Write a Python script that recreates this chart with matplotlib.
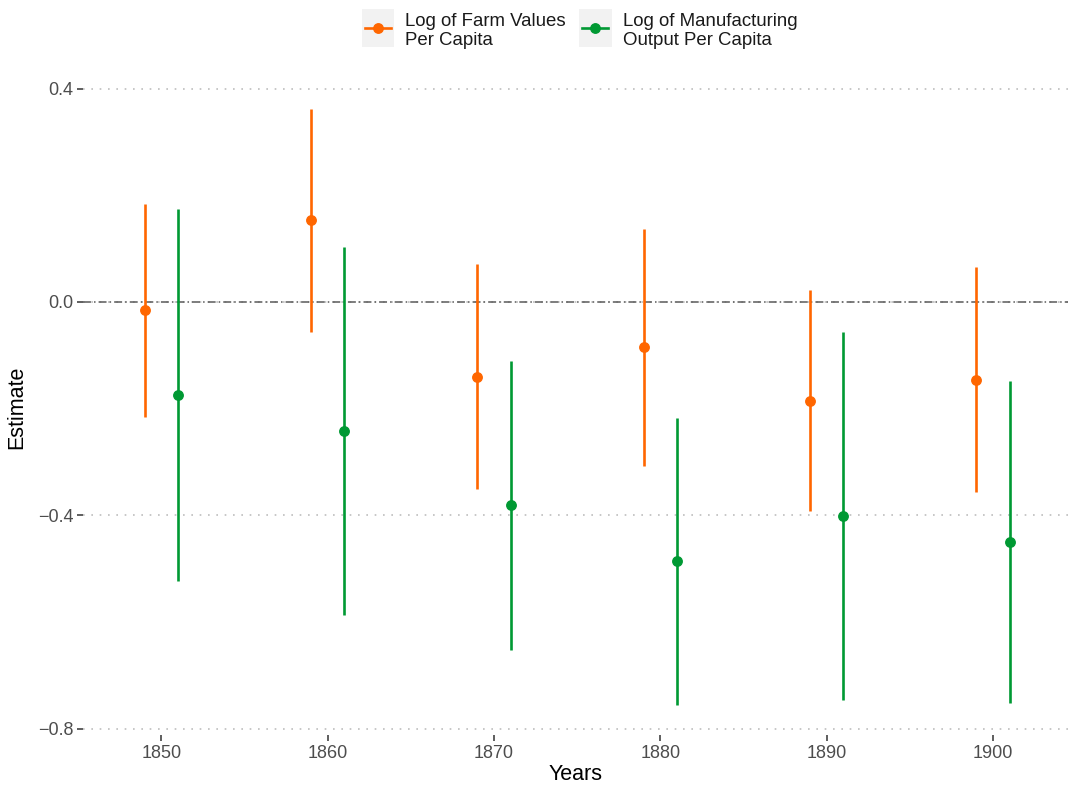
import matplotlib
matplotlib.use("Agg")
import matplotlib.pyplot as plt
import numpy as np
from matplotlib.lines import Line2D
from matplotlib.patches import Rectangle
from matplotlib.legend_handler import HandlerLine2D
from matplotlib.ticker import FuncFormatter, FixedLocator

plt.rcParams['font.family'] = ['Liberation Sans', 'DejaVu Sans']

# Census years and coefficient estimates with 95% confidence bounds
years = [1850, 1860, 1870, 1880, 1890, 1900]

farm_est = [-0.016, 0.153, -0.140, -0.085, -0.185, -0.146]
farm_lo = [-0.216, -0.056, -0.350, -0.307, -0.392, -0.357]
farm_hi = [0.183, 0.362, 0.071, 0.136, 0.022, 0.065]

manu_est = [-0.174, -0.242, -0.381, -0.486, -0.401, -0.450]
manu_lo = [-0.523, -0.587, -0.653, -0.756, -0.746, -0.752]
manu_hi = [0.174, 0.103, -0.111, -0.217, -0.056, -0.148]

series_labels = ["Log of Farm Values\nPer Capita",
                 "Log of Manufacturing\nOutput Per Capita"]
y_ticks = [0.4, 0.0, -0.4, -0.8]

ORANGE = "#FF6600"
GREEN = "#009933"

fig = plt.figure(figsize=(10.74, 7.88), dpi=100)
ax = fig.add_axes([83 / 1074, 1 - 735 / 788, 985 / 1074, 656 / 788])

yrs = np.array(years, dtype=float)
offset = 1.0  # side-by-side dodge in years


def draw(xpos, est, lo, hi, color):
    est = np.asarray(est)
    err = np.vstack([est - np.asarray(lo), np.asarray(hi) - est])
    ax.errorbar(xpos, est, yerr=err, fmt='o', color=color, ecolor=color,
                elinewidth=1.9, markersize=6.8, capsize=0, zorder=4)


draw(yrs - offset, farm_est, farm_lo, farm_hi, ORANGE)
draw(yrs + offset, manu_est, manu_lo, manu_hi, GREEN)

# reference line at zero (dash-dot)
ax.axhline(0, color="#5A5A5A", lw=1.1, linestyle=(0, (5.2, 2.0, 1.0, 2.0)), zorder=2)

# axis limits with padding around the data
all_lo = min(min(farm_lo), min(manu_lo))
all_hi = max(max(farm_hi), max(manu_hi))
rng = all_hi - all_lo
ax.set_ylim(all_lo - 0.05 * rng, all_hi + 0.05 * rng)
ax.set_xlim(1845.3, 1904.5)

ax.yaxis.set_major_locator(FixedLocator(y_ticks))
ax.yaxis.set_major_formatter(FuncFormatter(lambda v, p: f"{v:.1f}".replace("-", "\u2212")))
ax.set_xticks(years)
ax.set_xticklabels([str(y) for y in years])

ax.yaxis.grid(True, color="#BEBEBE", lw=1.2, linestyle=(0, (1, 4)), zorder=1)
ax.xaxis.grid(False)
ax.set_axisbelow(True)
for s in ax.spines.values():
    s.set_visible(False)

ax.tick_params(axis='both', length=4, width=1.1, color="#333333",
               labelsize=13, labelcolor="#4D4D4D", pad=3)

ax.set_xlabel("Years", fontsize=15.5, color="black")
ax.set_ylabel("Estimate", fontsize=15.5, color="black")
ax.xaxis.set_label_coords(0.5, -0.044)
ax.yaxis.set_label_coords(-0.057, 0.5)

KEY_H = 27.4  # legend key box height in points


class KeyHandler(HandlerLine2D):
    """Legend key with a light grey box behind the line-and-point glyph."""

    def create_artists(self, legend, orig_handle, xdescent, ydescent,
                       width, height, fontsize, trans):
        y0 = -ydescent - 0.5
        bg = Rectangle((-xdescent, y0), width, KEY_H,
                       facecolor="#F2F2F2", edgecolor="none", transform=trans)
        yc = y0 + KEY_H / 2
        pad = 0.1 * width
        line = Line2D([-xdescent + pad, -xdescent + width - pad], [yc, yc],
                      color=orig_handle.get_color(), lw=orig_handle.get_linewidth(),
                      transform=trans)
        dot = Line2D([-xdescent + width / 2], [yc], linestyle='none',
                     marker='o', markersize=orig_handle.get_markersize(),
                     color=orig_handle.get_color(), transform=trans)
        return [bg, line, dot]


handles = [Line2D([], [], color=ORANGE, lw=1.9, marker='o', markersize=6.8),
           Line2D([], [], color=GREEN, lw=1.9, marker='o', markersize=6.8)]
leg = fig.legend(handles, series_labels, loc='upper center',
                 bbox_to_anchor=(579.5 / 1074, 1 - 4 / 788), ncol=2,
                 frameon=False, fontsize=13.4, borderpad=0, handlelength=1.75,
                 handleheight=2.05, handletextpad=0.6, columnspacing=0.7,
                 handler_map={Line2D: KeyHandler()})
for t in leg.get_texts():
    t.set_linespacing(1.15)
    t.set_color("#1A1A1A")

fig.savefig("out.png", dpi=100, facecolor="white")
